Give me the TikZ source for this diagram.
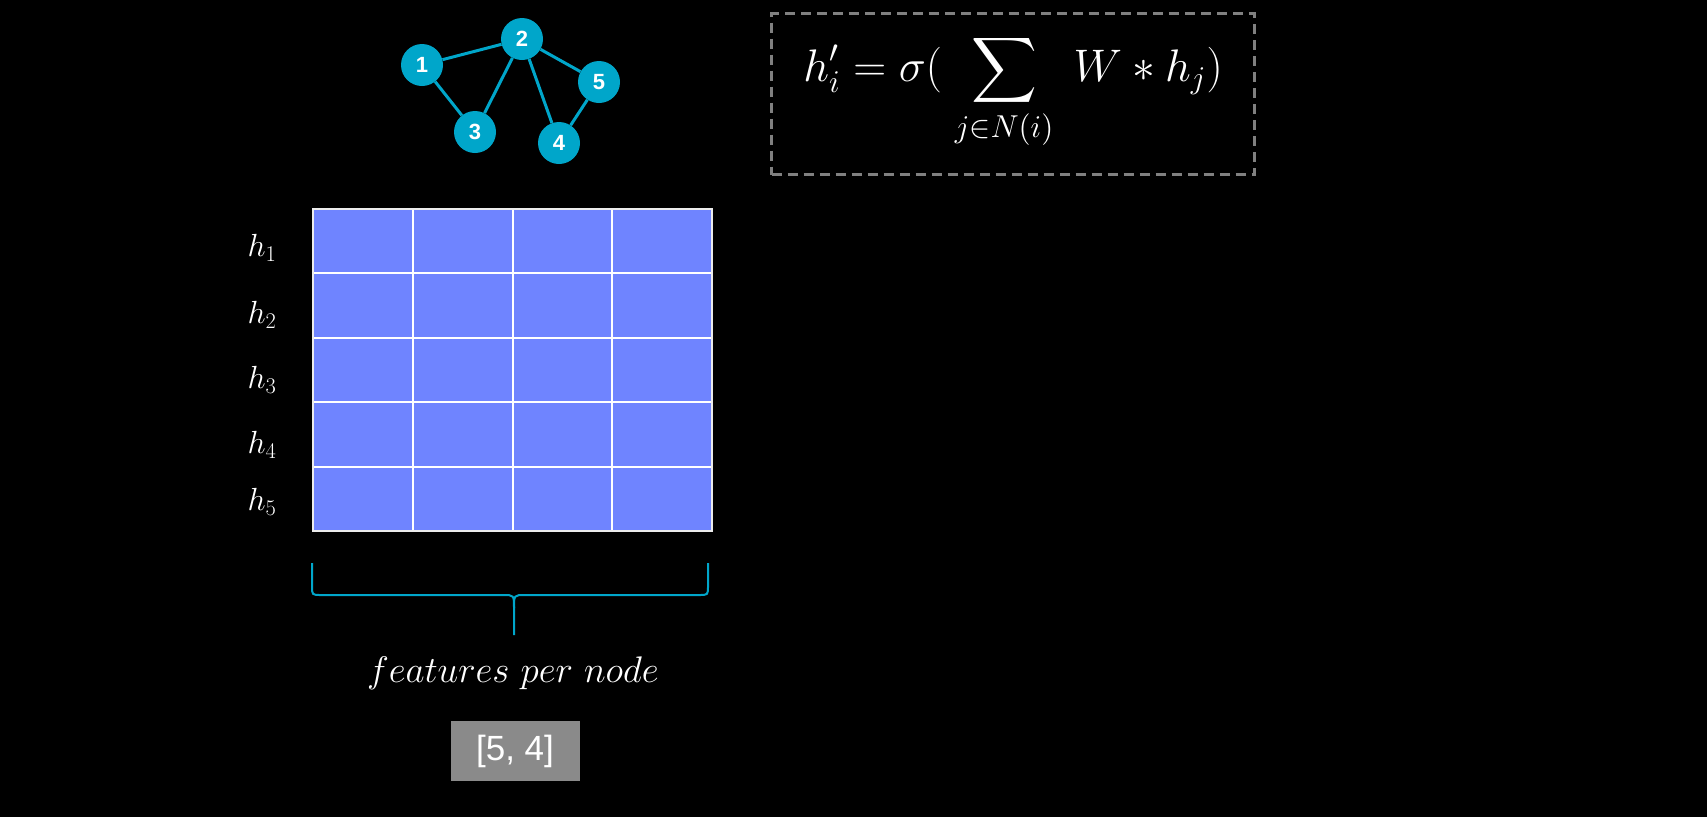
\documentclass[tikz,border=0pt]{standalone}
\usepackage{fix-cm}
\usepackage{exscale}
\usepackage{graphicx}
\usepackage{fontspec}
\newfontfamily\labelfont{Liberation Sans}
\definecolor{nodecyan}{RGB}{0,166,202}
\definecolor{cellblue}{RGB}{111,132,255}
\definecolor{boxgray}{RGB}{128,128,128}
\definecolor{taggray}{RGB}{138,138,138}

\begin{document}
\begin{tikzpicture}[x=1pt,y=-1pt,
  vertex/.style={circle,fill=nodecyan,minimum size=42pt,inner sep=0pt,text=white,
    font=\labelfont\bfseries\fontsize{22}{22}\selectfont},
  edge/.style={nodecyan,line width=3pt},
  mathlabel/.style={text=white,inner sep=0pt}]
\fill[black] (0,0) rectangle (1707,817);
\useasboundingbox (0,0) rectangle (1707,817);
% small graph
\node[vertex] (n1) at (422,65) {1};
\node[vertex] (n2) at (522,39) {2};
\node[vertex] (n3) at (475,132) {3};
\node[vertex] (n4) at (559,143) {4};
\node[vertex] (n5) at (599,82) {5};
\draw[edge] (n1) -- (n2);
\draw[edge] (n1) -- (n3);
\draw[edge] (n2) -- (n3);
\draw[edge] (n2) -- (n4);
\draw[edge] (n2) -- (n5);
\draw[edge] (n5) -- (n4);
% update rule
\node[draw=boxgray,line width=3pt,dash pattern=on 10pt off 6pt,
  minimum width=483pt,minimum height=161pt] (frame) at (1013,94) {};
\node[mathlabel,font=\fontsize{20.74}{25}\selectfont] (rule) at (1013,92)
  {\scalebox{2.2}{$\displaystyle h'_i = \sigma(\;\sum_{j\in N(i)}\; W * h_j)$}};
% feature matrix
\fill[cellblue] (313,209) rectangle (712,531);
\foreach \c in {1,2,3}
\draw[white,line width=2pt] (313+\c*99.75,209) -- (313+\c*99.75,531);
\foreach \r in {1,...,4}
\draw[white,line width=2pt] (313,209+\r*64.4) -- (712,209+\r*64.4);
\draw[white!85!gray,line width=2pt] (313,209) rectangle (712,531);
\foreach \i/\y in {1/248,2/315,3/380,4/445,5/502}
\node[mathlabel,font=\fontsize{32}{32}\selectfont] (h\i) at (262,\y) {$h_{\i}$};
% brace under the matrix
\draw[nodecyan,line width=2pt] (312,563) -- (312,586) .. controls (312,595) .. (321,595)
  -- (503,595) .. controls (514,595) .. (514,608) -- (514,635);
\draw[nodecyan,line width=2pt] (708,563) -- (708,586) .. controls (708,595) .. (699,595)
  -- (525,595) .. controls (514,595) .. (514,608);
\node[mathlabel,font=\fontsize{37}{37}\selectfont] (feat) at (513,673) {$features\ per\ node$};
\node[fill=taggray,text=white,font=\labelfont\fontsize{35}{35}\selectfont,
  minimum width=129pt,minimum height=60pt,inner sep=0pt] (shape) at (515,751) {[5, 4]};
\end{tikzpicture}
\end{document}
